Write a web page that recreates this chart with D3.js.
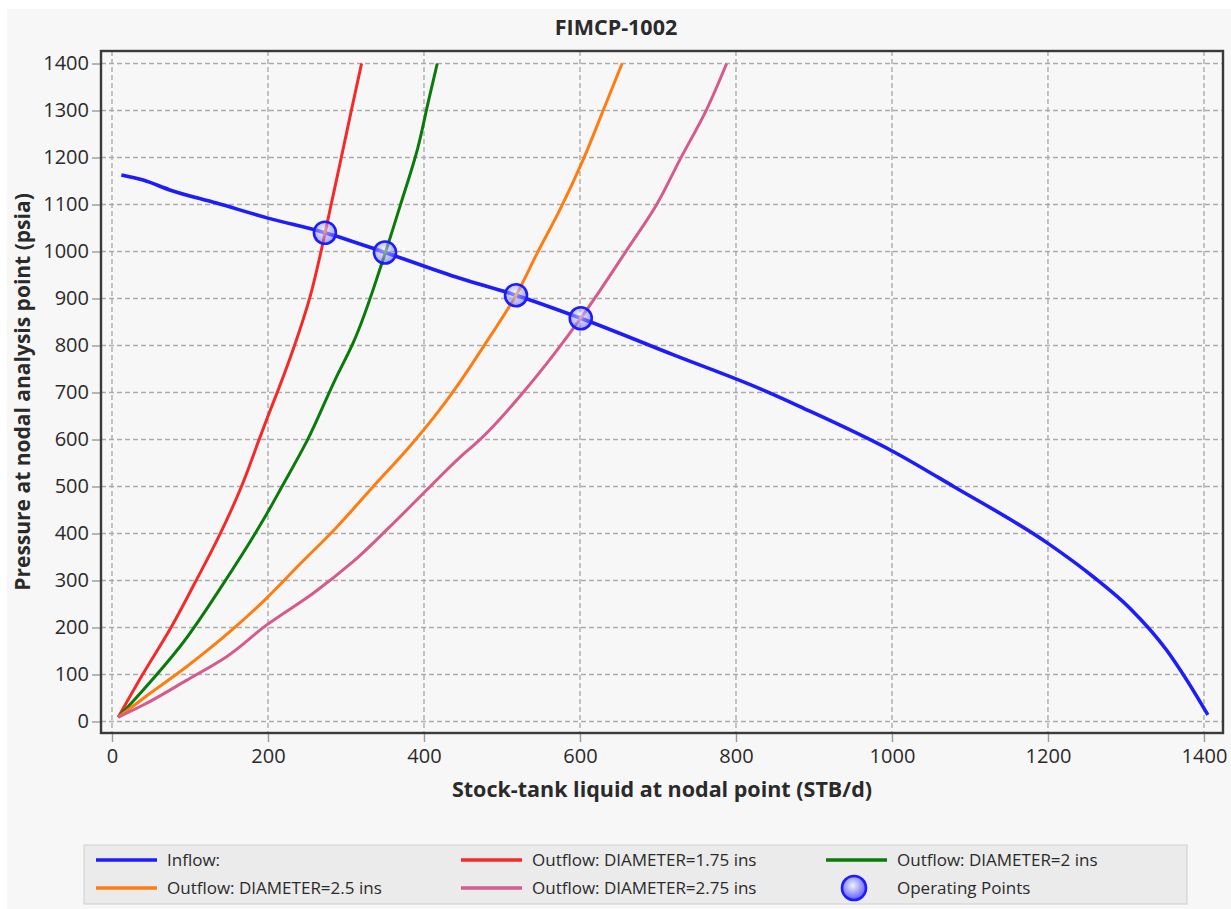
<!DOCTYPE html>
<html>
<head>
<meta charset="utf-8">
<script src="https://cdn.jsdelivr.net/npm/d3@7"></script>
<style>
  body { margin: 0; background: #ffffff; }
  text { font-family: "Open Sans", "Noto Sans", sans-serif; fill: #2a2a2a; }
</style>
</head>
<body>
<div id="chart"></div>
<script>
// Curves: [liquid rate STB/d, pressure psia]
const inflow = [[12,1163],[40,1152],[74,1131],[134,1103],[200,1071],[273,1040],[350,998],[446,943],
  [518,907],[601,858],[720,780],[835,705],[882,670],[1002,574],[1079,500],[1200,379],[1258,308],
  [1305,241],[1352,152],[1378,88],[1405,14]];
const outflow175 = [[8,9],[40,102],[74,195],[106,294],[138,397],[166,500],[188,597],[200,650],[213,705],
  [234,800],[254,904],[268,1000],[281,1100],[294,1200],[307,1301],[320,1400]];
const outflow200 = [[8,9],[40,67],[87,159],[143,294],[194,429],[218,500],[250,597],[286,727],[309,805],
  [346,975],[369,1095],[392,1220],[406,1322],[417,1400]];
const outflow250 = [[8,9],[40,49],[96,117],[156,198],[198,262],[241,335],[285,408],[335,500],[378,578],
  [420,663],[448,727],[476,797],[518,907],[545,996],[574,1088],[604,1195],[630,1301],[654,1400]];
const outflow275 = [[8,9],[40,35],[96,88],[147,138],[198,205],[258,273],[309,340],[356,414],[408,500],
  [446,562],[470,597],[527,700],[566,780],[601,858],[626,918],[660,1003],[698,1099],[728,1195],
  [762,1301],[788,1400]];
const operatingPoints = [[273,1040],[350,998],[518,907],[601,858]];

const xTicks = [0, 200, 400, 600, 800, 1000, 1200, 1400];
const yTicks = [0, 100, 200, 300, 400, 500, 600, 700, 800, 900, 1000, 1100, 1200, 1300, 1400];

const seriesNames = ["Inflow:", "Outflow: DIAMETER=1.75 ins", "Outflow: DIAMETER=2 ins",
  "Outflow: DIAMETER=2.5 ins", "Outflow: DIAMETER=2.75 ins"];
const seriesData = [inflow, outflow175, outflow200, outflow250, outflow275];
const seriesColors = ["#1c1cff", "#f42a2a", "#0a7a0a", "#ff7c10", "#d65a8c"];

const W = 1231, H = 909;
const plot = { left: 101, right: 1223, top: 51, bottom: 733 };

const svg = d3.select("#chart").append("svg")
  .attr("width", W).attr("height", H);

// radial fill for the operating point markers
const defs = svg.append("defs");
const grad = defs.append("radialGradient").attr("id", "opGrad")
  .attr("cx", "45%").attr("cy", "40%").attr("r", "60%");
grad.append("stop").attr("offset", "0%").attr("stop-color", "#f2f2ff");
grad.append("stop").attr("offset", "100%").attr("stop-color", "#5a5aff");
defs.append("clipPath").attr("id", "plotClip").append("rect")
  .attr("x", plot.left).attr("y", plot.top)
  .attr("width", plot.right - plot.left).attr("height", plot.bottom - plot.top);

// panel background
svg.append("rect").attr("x", 7).attr("y", 9).attr("width", W - 7).attr("height", H - 9)
  .attr("fill", "#f7f7f7");

const x = d3.scaleLinear().domain([-14.1, 1424.4]).range([plot.left, plot.right]);
const y = d3.scaleLinear().domain([-24.5, 1426.6]).range([plot.bottom, plot.top]);

// grid
const grid = svg.append("g").attr("clip-path", "url(#plotClip)");
grid.selectAll(".gx").data(xTicks).enter().append("line")
  .attr("x1", d => x(d)).attr("x2", d => x(d))
  .attr("y1", plot.top).attr("y2", plot.bottom)
  .attr("stroke", "#ababab").attr("stroke-width", 1.4).attr("stroke-dasharray", "5,3");
grid.selectAll(".gy").data(yTicks).enter().append("line")
  .attr("y1", d => y(d)).attr("y2", d => y(d))
  .attr("x1", plot.left).attr("x2", plot.right)
  .attr("stroke", "#ababab").attr("stroke-width", 1.4).attr("stroke-dasharray", "5,3");

// axes
const xAxis = svg.append("g")
  .attr("transform", `translate(0,${plot.bottom})`)
  .call(d3.axisBottom(x).tickValues(xTicks).tickFormat(d3.format("d"))
    .tickSize(9).tickPadding(7).tickSizeOuter(0));
const yAxis = svg.append("g")
  .attr("transform", `translate(${plot.left},0)`)
  .call(d3.axisLeft(y).tickValues(yTicks).tickFormat(d3.format("d"))
    .tickSize(9).tickPadding(3).tickSizeOuter(0));
[xAxis, yAxis].forEach(a => {
  a.select(".domain").remove();
  a.selectAll(".tick line").attr("stroke", "#9a9a9a").attr("stroke-width", 1.4);
  a.selectAll(".tick text").style("font-size", "20px").attr("fill", "#2a2a2a");
});

// curves: inflow runs along x, outflow curves climb along y
const lineX = d3.line().x(d => x(d[0])).y(d => y(d[1])).curve(d3.curveMonotoneX);
const lineY = d3.line().x(d => x(d[0])).y(d => y(d[1])).curve(d3.curveMonotoneY);
const curves = svg.append("g").attr("clip-path", "url(#plotClip)");
seriesData.forEach((s, i) => {
  curves.append("path").datum(s)
    .attr("d", i === 0 ? lineX : lineY)
    .attr("fill", "none")
    .attr("stroke", seriesColors[i])
    .attr("stroke-width", i === 0 ? 3.6 : 3)
    .attr("stroke-linejoin", "round");
});

// operating points
curves.selectAll(".op").data(operatingPoints).enter().append("circle")
  .attr("cx", d => x(d[0])).attr("cy", d => y(d[1])).attr("r", 11)
  .attr("fill", "url(#opGrad)").attr("fill-opacity", 0.55)
  .attr("stroke", "#1c1cff").attr("stroke-width", 2.6);

// plot frame
svg.append("rect")
  .attr("x", plot.left).attr("y", plot.top)
  .attr("width", plot.right - plot.left).attr("height", plot.bottom - plot.top)
  .attr("fill", "none").attr("stroke", "#3a3a3a").attr("stroke-width", 2.4);

// title and axis labels
svg.append("text")
  .attr("x", 616).attr("y", 35)
  .style("text-anchor", "middle").style("font-size", "21.5px").style("font-weight", "bold")
  .text("FIMCP-1002");
svg.append("text")
  .attr("x", (plot.left + plot.right) / 2).attr("y", 797)
  .style("text-anchor", "middle").style("font-size", "21.5px").style("font-weight", "bold")
  .text("Stock-tank liquid at nodal point (STB/d)");
svg.append("text")
  .attr("transform", "rotate(-90)")
  .attr("x", -(plot.top + plot.bottom) / 2).attr("y", 30)
  .style("text-anchor", "middle").style("font-size", "21px").style("font-weight", "bold")
  .text("Pressure at nodal analysis point (psia)");

// legend
const legend = svg.append("g");
legend.append("rect")
  .attr("x", 84).attr("y", 845).attr("width", 1103).attr("height", 59)
  .attr("fill", "#ebebeb").attr("stroke", "#d4d4d4").attr("stroke-width", 1.2);
const colX = [96, 461, 826];
const rowY = [860, 888];
const legendItems = seriesNames.map((name, i) => ({ name, color: seriesColors[i], type: "line" }));
legendItems.push({ name: "Operating Points", type: "point" });
legendItems.forEach((d, i) => {
  const cx = colX[i % 3], cy = rowY[Math.floor(i / 3)];
  if (d.type === "line") {
    legend.append("line")
      .attr("x1", cx).attr("x2", cx + 61).attr("y1", cy).attr("y2", cy)
      .attr("stroke", d.color).attr("stroke-width", 3.5);
  } else {
    legend.append("circle")
      .attr("cx", cx + 28).attr("cy", cy).attr("r", 12)
      .attr("fill", "url(#opGrad)").attr("stroke", "#1c1cff").attr("stroke-width", 2.6);
  }
  legend.append("text")
    .attr("x", cx + 71).attr("y", cy).attr("dy", "0.35em")
    .style("font-size", "17px")
    .text(d.name);
});
</script>
</body>
</html>
